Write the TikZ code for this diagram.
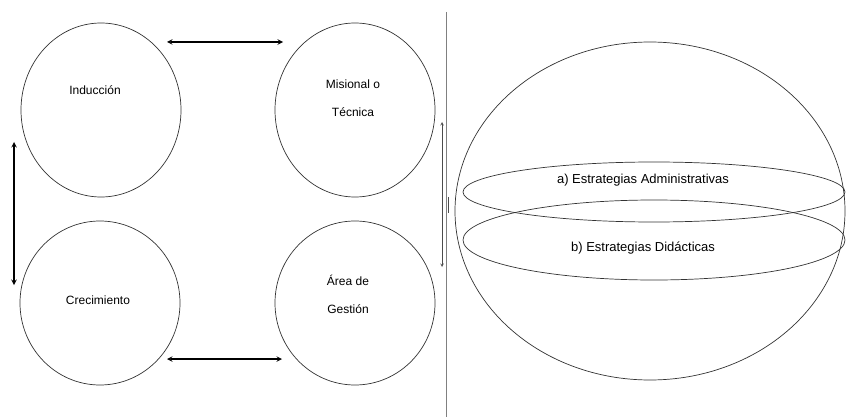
\documentclass[tikz,border=0pt]{standalone}
\usepackage{fontspec}
\setmainfont{Liberation Sans}
\usetikzlibrary{shapes.geometric, arrows, positioning}
\tikzstyle{arrow} = [line width=1.4pt,<->,>=stealth]
\tikzstyle{thinarrow} = [gray!60!black,semithick,<->,>=stealth]
\tikzstyle{area} = [ellipse, draw=black!80, line width=0.7pt, minimum width=160pt, minimum height=174pt, inner sep=0pt]
\tikzstyle{band} = [ellipse, draw=black!80, line width=0.7pt, inner sep=0pt]

\begin{document}
\begin{tikzpicture}[x=1pt,y=-1pt,font=\fontsize{12}{28}\selectfont]
\useasboundingbox (0,0) rectangle (846,417);

\node [area] (ind) at (101,110) {};
\node [area] (mis) at (355,110) {};
\node [area, minimum height=164pt] (cre) at (100,303) {};
\node [area, minimum height=164pt] (are) at (355,303) {};

\node (tind) at (95,90) {Inducción};
\node [align=center] (tmis) at (353,98) {Misional o\\Técnica};
\node (tcre) at (98,300) {Crecimiento};
\node [align=center] (tare) at (348,294) {Área de\\Gestión};

\coordinate (t1) at (167,42);
\coordinate (t2) at (283,42);
\coordinate (b1) at (167,359);
\coordinate (b2) at (282,359);
\coordinate (l1) at (14,142);
\coordinate (l2) at (14,285);
\coordinate (r1) at (442,122);
\coordinate (r2) at (442,267);

\draw [arrow] (t1) to (t2);
\draw [arrow] (b1) to (b2);
\draw [arrow] (l1) to (l2);
\draw [thinarrow] (r1) to (r2);

% separator
\coordinate (s1) at (446,12);
\coordinate (s2) at (446,417);
\draw [gray, line width=1pt] (s1) -- (s2);
\coordinate (k1) at (448,197);
\coordinate (k2) at (448,213);
\draw [black!70] (k1) -- (k2);

\node [band, minimum width=390pt, minimum height=338pt] (ball) at (650,211) {};
\node [band, minimum width=382pt, minimum height=60pt] (ea) at (654,192) {};
\node [band, minimum width=382pt, minimum height=80pt] (eb) at (654,240) {};

\node [font=\fontsize{13}{15}\selectfont] (ta) at (643,180) {a) Estrategias Administrativas};
\node [font=\fontsize{13}{15}\selectfont] (tb) at (643,248) {b) Estrategias Didácticas};

\end{tikzpicture}
\end{document}
